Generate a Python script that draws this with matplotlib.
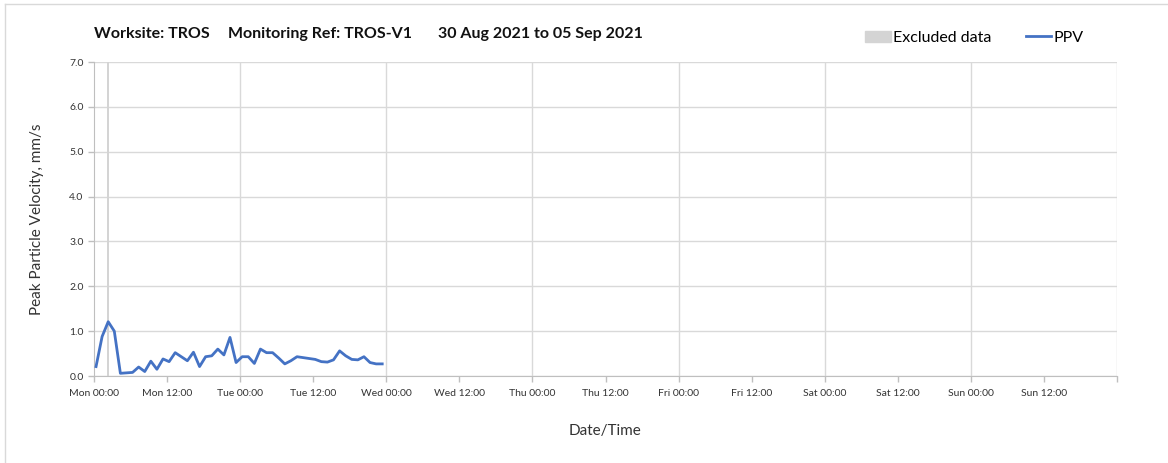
import datetime as dt
import numpy as np
import matplotlib
matplotlib.use('Agg')
from matplotlib import pyplot
import matplotlib.dates as mdates
from matplotlib.patches import Patch
from matplotlib.lines import Line2D

pyplot.rcParams.update({'font.family': ['Lato', 'DejaVu Sans']})

#(0) Data: hourly PPV readings, first at Mon 00:20
start    = dt.datetime(2021, 8, 30, 0, 20)
ppv      = [0.21, 0.88, 1.21, 1.00, 0.06, 0.07, 0.08, 0.20, 0.10, 0.33,
            0.15, 0.38, 0.32, 0.52, 0.43, 0.34, 0.53, 0.21, 0.43, 0.45,
            0.60, 0.47, 0.86, 0.30, 0.43, 0.43, 0.28, 0.60, 0.52, 0.52,
            0.40, 0.27, 0.34, 0.43, 0.41, 0.39, 0.37, 0.32, 0.31, 0.36,
            0.56, 0.45, 0.37, 0.36, 0.43, 0.30, 0.27, 0.27]
times    = [start + dt.timedelta(hours=k) for k in range(len(ppv))]
excluded = (dt.datetime(2021, 8, 30, 2, 11), dt.datetime(2021, 8, 30, 2, 31))
week0    = dt.datetime(2021, 8, 30)
week1    = dt.datetime(2021, 9, 6)
title_parts = ['Worksite: TROS', 'Monitoring Ref: TROS-V1', '30 Aug 2021 to 05 Sep 2021']


def tick_label(x, pos):
    d = mdates.num2date(x).replace(tzinfo=None)
    if d >= week1:
        return ''
    return d.strftime('%a %H:%M')


#(1) Plot:
W, H = 1168, 463
fig = pyplot.figure(figsize=(W/100, H/100), dpi=100)
# outer frame (top/left edges visible)
fig.add_artist(Line2D([5/W, 5/W], [0, 1-4/H], transform=fig.transFigure, color='#d9d9d9', lw=1))
fig.add_artist(Line2D([5/W, 1], [1-4/H, 1-4/H], transform=fig.transFigure, color='#d9d9d9', lw=1))

ax = fig.add_axes([94/W, 1-376/H, (1117-94)/W, (376-62)/H])
ax.axvspan(*excluded, color='#d4d4d4', lw=0, zorder=1)
ax.plot(times, ppv, color='#4472C4', lw=2.0, zorder=3)

ax.set_xlim(week0, week1)
ax.set_ylim(0, 7)
ax.set_yticks(np.arange(0, 7.01, 1.0))
ax.set_yticklabels(['%.1f' % v for v in np.arange(0, 7.01, 1.0)])
ax.xaxis.set_major_locator(mdates.HourLocator(byhour=[0, 12]))
ax.xaxis.set_major_formatter(pyplot.FuncFormatter(tick_label))
ax.tick_params(axis='both', labelsize=7.5, colors='#bfbfbf', labelcolor='#333333', length=4, width=1)
ax.tick_params(axis='x', pad=5)

ax.grid(axis='y', color='#d9d9d9', lw=1, zorder=0)
for d in range(1, 8):
    ax.axvline(week0 + dt.timedelta(days=d), color='#d9d9d9', lw=1, zorder=0)
for s in ['top', 'right']:
    ax.spines[s].set_visible(False)
for s in ['left', 'bottom']:
    ax.spines[s].set_color('#bfbfbf')
ax.set_axisbelow(True)

ax.set_ylabel('Peak Particle Velocity, mm/s', fontsize=11, color='#333333', labelpad=18)
ax.set_xlabel('Date/Time', fontsize=11, color='#333333', labelpad=19)

for xpix, txt in zip([94, 228, 438], title_parts):
    fig.text(xpix/W, 1-38/H, txt, fontsize=11.5, fontweight='bold', va='baseline', color='#111111')

handles = [Patch(color='#d4d4d4', label='Excluded data'),
           Line2D([], [], color='#4472C4', lw=2.0, label='PPV')]
fig.legend(handles=handles, loc='center left', bbox_to_anchor=(865/W, 1-38/H), ncol=2,
           frameon=False, fontsize=11.5, handlelength=1.6, handletextpad=0.15,
           columnspacing=2.15, borderaxespad=0, borderpad=0)

pyplot.savefig('out.png', dpi=100)
